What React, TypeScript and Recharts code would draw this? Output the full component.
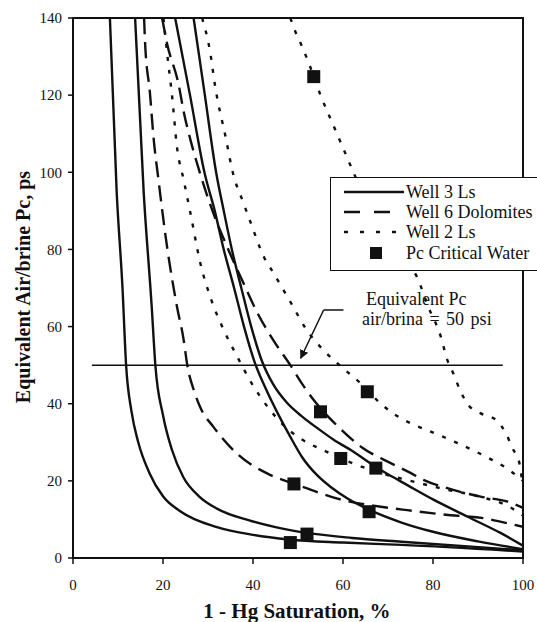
import { ComposedChart, Line, Scatter, XAxis, YAxis, ReferenceLine, ReferenceArea } from 'recharts';

const xTicks = [0, 20, 40, 60, 80, 100];
const yTicks = [0, 20, 40, 60, 80, 100, 120, 140];

// Well 3 Ls (solid curves), [saturation %, Pc]
const well3a = [[8.2, 140], [9.7, 95], [11, 70], [11.8, 50], [13, 38], [14.5, 30], [17, 22], [20, 16], [24, 12], [32, 8], [40, 6], [48, 4.8], [60, 4], [73, 3.4], [100, 1.7]];
const well3b = [[13.8, 140], [15.7, 95], [17.5, 65], [18.3, 50], [20, 37], [22, 28], [24.5, 21], [28, 16], [32, 12.8], [39, 9.8], [45, 8], [52, 6.5], [62, 5.2], [73, 4.2], [100, 2]];
const well3c = [[22.7, 140], [26, 120], [29.2, 100], [31.5, 90], [33.5, 80], [35.8, 70], [38, 60], [40.3, 51], [42.8, 44], [45.5, 37.5], [48.3, 31.4], [51, 26], [54.3, 21.4], [57.5, 18.2], [61, 15.4], [66, 12.4], [73, 9.2], [80, 6.8], [90, 4.3], [100, 2.3]];
const well3d = [[26.8, 140], [29.3, 120], [31.8, 100], [33.5, 90], [35.3, 80], [37.4, 70], [39.6, 60], [42, 51], [44.5, 45], [47.5, 40.3], [51, 36.6], [54.5, 33.5], [58, 30.6], [62, 27.8], [67.3, 23.6], [70, 21.7], [74.3, 18.9], [80, 15.2], [87.7, 10.7], [95, 6.5], [100, 3.2]];

// Well 6 Dolomites (dashed)
const well6a = [[15.8, 140], [16, 134], [17.1, 120.5], [17.9, 109], [19, 98], [20.9, 80.7], [23.1, 65.2], [24.6, 56.5], [25.4, 50], [27, 43], [28.3, 39], [31.2, 34], [36.5, 27], [43.9, 21.5], [49, 19.3], [55, 16.8], [60, 15], [68.4, 13.3], [74.3, 12.4], [83.9, 11.1], [91.4, 10.3], [96.6, 9], [100, 8.1]];
const well6b = [[19.8, 140], [20.9, 133.4], [23.5, 122.6], [24.6, 115.7], [26.1, 108.4], [27.9, 101], [31, 90], [34.5, 80], [37.9, 71.2], [41, 63.5], [44.5, 56.5], [48.3, 50], [51, 45], [53.8, 40.5], [58.7, 34.3], [64.3, 28.6], [70.6, 24.6], [75.1, 22], [78, 20.2], [83.2, 18.1], [90.6, 15.9], [96.6, 14.6], [100, 13]];

// Well 2 Ls (dotted)
const well2a = [[20.1, 140], [21, 130], [22, 120], [23.1, 106.6], [24.6, 98], [26.1, 89.4], [28.3, 76.4], [30.5, 67.7], [33.5, 59.1], [36.5, 52.2], [39.6, 45.5], [43.5, 38.8], [47, 34.2], [50.5, 31], [55.7, 27.9], [63.2, 24.1], [69.9, 21.5], [74.3, 20.2], [82, 18], [90, 16], [96.6, 13.5], [100, 11]];
const well2b = [[28.7, 140], [30.5, 131], [31.6, 122.2], [33.9, 109.2], [35.5, 100], [37.9, 92], [39.4, 87.2], [42.4, 78.1], [44.6, 73.8], [48.5, 66], [52, 59], [56, 53.5], [60.2, 49], [64, 45.2], [68.4, 40], [71.5, 37.2], [75.1, 34.9], [78.8, 33.1], [82.5, 31.3], [86, 29.5], [89.5, 27.6], [93, 25.5], [96.2, 23.4], [100, 20]];
const well2c = [[48.3, 140], [49.4, 136.5], [50.9, 132.6], [52.4, 128.3], [55, 120], [58, 111.8], [61, 103.6], [62.5, 99.5], [66, 91], [70, 83], [73.5, 77], [76.2, 73.4], [79, 65], [81.7, 57.5], [83.2, 51.3], [84.5, 47.9], [86.2, 43], [88, 39.5], [90.6, 37.5], [94, 35.8], [96.2, 32.3], [97.7, 28.4], [99.2, 24.6], [99.8, 20]];

// Pc critical water points
const critX = [53.5, 65.4, 55, 59.5, 67.3, 49.1, 65.8, 52, 48.3];
const critY = [124.8, 43.1, 37.9, 25.8, 23.3, 19.2, 12, 6.2, 4.0];

// equivalent Pc air/brine = 50 psi
const refPc = 50;
const refLine = [[4.2, refPc], [95.5, refPc]];

const pts = (arr: number[][]) => arr.map(([x, y]) => ({ x, y }));
const critical = critX.map((x, i) => ({ x, y: critY[i] }));

const ink = '#111';
const serif = '"Liberation Serif", "Times New Roman", serif';
const tickStyle = { fill: ink, fontSize: 15, fontFamily: serif };

const solid = [well3a, well3b, well3c, well3d];
const dashed = [well6a, well6b];
const dotted = [well2a, well2b, well2c];

const Square = (props: any) => {
  const { cx, cy } = props;
  return <rect x={cx - 6.5} y={cy - 6.5} width={13} height={13} fill={ink} />;
};

function LegendBox() {
  const row = { position: 'absolute' as const, left: 0, height: 20, display: 'flex', alignItems: 'center' };
  const txt = { position: 'absolute' as const, left: 75, whiteSpace: 'nowrap' as const, fontSize: 18, lineHeight: '20px', fontFamily: serif, color: ink };
  return (
    <div style={{ position: 'absolute', left: 330, top: 177, width: 230, height: 92, border: `1.5px solid ${ink}`, background: '#fff' }}>
      <div style={{ ...row, top: 4 }}>
        <svg width={75} height={20}><line x1={13} x2={73} y1={10} y2={10} stroke={ink} strokeWidth={2.4} /></svg>
        <span style={txt}>Well 3 Ls</span>
      </div>
      <div style={{ ...row, top: 24 }}>
        <svg width={75} height={20}><line x1={13} x2={73} y1={10} y2={10} stroke={ink} strokeWidth={2.4} strokeDasharray="16 14" /></svg>
        <span style={txt}>Well 6 Dolomites</span>
      </div>
      <div style={{ ...row, top: 44 }}>
        <svg width={75} height={20}><line x1={13} x2={73} y1={10} y2={10} stroke={ink} strokeWidth={2.4} strokeDasharray="4 12" /></svg>
        <span style={txt}>Well 2 Ls</span>
      </div>
      <div style={{ ...row, top: 65 }}>
        <svg width={75} height={20}><rect x={39} y={4} width={12} height={12} fill={ink} /></svg>
        <span style={txt}>Pc Critical Water</span>
      </div>
    </div>
  );
}

export default function App() {
  return (
    <div style={{ position: 'absolute', left: 0, top: 0, width: 537, height: 622, overflow: 'hidden', background: '#fff' }}>
      <ComposedChart width={537} height={622} margin={{ top: 18, right: 14, left: 0, bottom: 0 }}>
        <defs>
          <marker id="arrowHead" viewBox="0 0 10 10" refX={9} refY={5} markerWidth={9} markerHeight={9} orient="auto" markerUnits="userSpaceOnUse">
            <path d="M0,0 L10,5 L0,10 z" fill={ink} />
          </marker>
        </defs>
        <XAxis
          type="number"
          dataKey="x"
          domain={[0, 100]}
          ticks={xTicks}
          allowDataOverflow
          height={64}
          tick={tickStyle}
          tickSize={6}
          tickMargin={15}
          axisLine={{ stroke: ink, strokeWidth: 2 }}
          tickLine={{ stroke: ink, strokeWidth: 1.5 }}
        />
        <YAxis
          type="number"
          dataKey="y"
          domain={[0, 140]}
          ticks={yTicks}
          allowDataOverflow
          width={73}
          tick={tickStyle}
          tickSize={5}
          tickMargin={6}
          axisLine={{ stroke: ink, strokeWidth: 2 }}
          tickLine={{ stroke: ink, strokeWidth: 1.5 }}
        />
        <ReferenceArea x1={0} x2={100} y1={0} y2={140} fill="none" stroke={ink} strokeWidth={2} fillOpacity={0} />
        <Line data={pts(refLine)} dataKey="y" type="linear" stroke={ink} strokeWidth={1.5} dot={false} isAnimationActive={false} />
        {solid.map((c, i) => (
          <Line key={`s${i}`} data={pts(c)} dataKey="y" type="monotone" stroke={ink} strokeWidth={2.4} dot={false} isAnimationActive={false} />
        ))}
        {dashed.map((c, i) => (
          <Line key={`d${i}`} data={pts(c)} dataKey="y" type="monotone" stroke={ink} strokeWidth={2.4} strokeDasharray="16 8" dot={false} isAnimationActive={false} />
        ))}
        {dotted.map((c, i) => (
          <Line key={`w${i}`} data={pts(c)} dataKey="y" type="monotone" stroke={ink} strokeWidth={2.4} strokeDasharray="4 9" dot={false} isAnimationActive={false} />
        ))}
        <Scatter data={critical} dataKey="y" shape={Square} isAnimationActive={false} />
        <ReferenceLine segment={[{ x: 60.1, y: 64.3 }, { x: 55.7, y: 64.3 }]} stroke={ink} strokeWidth={1.5} />
        <ReferenceLine segment={[{ x: 55.7, y: 64.3 }, { x: 50.6, y: 51.8 }]} stroke={ink} strokeWidth={1.5} markerEnd="url(#arrowHead)" />
      </ComposedChart>

      <LegendBox />

      <div style={{ position: 'absolute', left: 366, top: 290, fontSize: 18, lineHeight: '19px', fontFamily: serif, color: ink, whiteSpace: 'nowrap' }}>Equivalent Pc</div>
      <div style={{ position: 'absolute', left: 362, top: 310, fontSize: 18, lineHeight: '19px', wordSpacing: 2, fontFamily: serif, color: ink, whiteSpace: 'nowrap' }}>air/brina = 50 psi</div>

      <div style={{ position: 'absolute', left: 23 - 160, top: 287 - 13, width: 320, height: 26, lineHeight: '26px', textAlign: 'center', transform: 'rotate(-90deg)', whiteSpace: 'nowrap', fontSize: 20, fontWeight: 'bold', fontFamily: serif, color: ink }}>
        Equivalent Air/brine Pc, ps
      </div>
      <div style={{ position: 'absolute', left: 297 - 160, top: 611 - 13, width: 320, height: 26, lineHeight: '26px', textAlign: 'center', whiteSpace: 'nowrap', fontSize: 21, fontWeight: 'bold', fontFamily: serif, color: ink }}>
        1 - Hg Saturation, %
      </div>
    </div>
  );
}
